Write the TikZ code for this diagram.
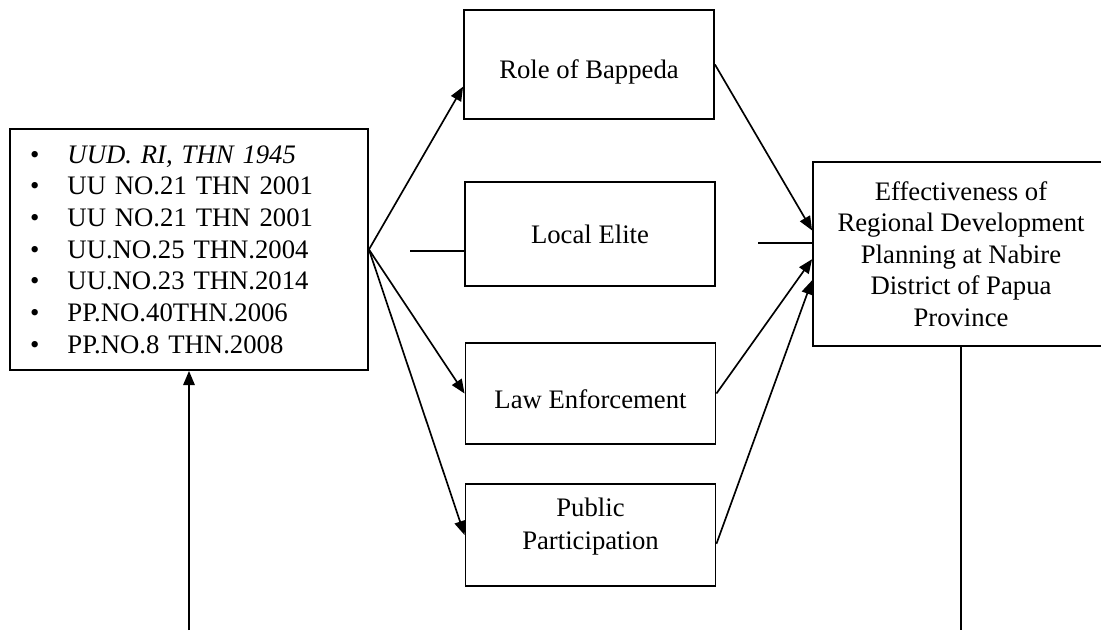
\documentclass[tikz,border=0pt]{standalone}
\usepackage{fontspec}
\setmainfont{Liberation Serif}
\usetikzlibrary{arrows.meta}

\newcommand{\lawitem}[1]{\textbullet\hspace{16pt}#1}

\begin{document}
\begin{tikzpicture}
[x=0.02cm,y=-0.02cm,
  boxDecorate/.style={shape=rectangle,draw,line width=1.1pt,inner sep=0pt,%
    font=\fontsize{15.2}{18}\selectfont},%
  midDecorate/.style={boxDecorate,minimum width=5cm,minimum height=2.06cm},%
  lineDecorate/.style={-,line width=0.95pt},%
  arrowDecorate/.style={-{Triangle[length=8pt,width=6.5pt]},line width=0.95pt}]
\useasboundingbox (0,0) rectangle (1101,630);
%% regulations box
\node (base) at (189,249.5) [boxDecorate,minimum width=7.16cm,minimum height=4.82cm,
  text width=6.36cm,align=left]
  {\lawitem{\textit{UUD. RI, THN 1945}}\\
   \lawitem{UU NO.21 THN 2001}\\
   \lawitem{UU NO.21 THN 2001}\\
   \lawitem{UU.NO.25 THN.2004}\\
   \lawitem{UU.NO.23 THN.2014}\\
   \lawitem{PP.NO.40THN.2006}\\
   \lawitem{PP.NO.8 THN.2008}};
%% factor boxes
\node (role) at (589,64.5) [midDecorate,minimum height=2.18cm,
  text height=15.7pt,text depth=0pt] {Role of Bappeda};
\node (elite) at (590,234) [midDecorate,minimum height=2.08cm] {Local Elite};
\node (law) at (590.5,393.5) [midDecorate,minimum height=2.02cm,
  text height=16.8pt,text depth=0pt] {Law Enforcement};
\node (pub) at (590.5,535) [midDecorate,minimum height=2.04cm,
  text height=0pt,text depth=21.3pt]
  {\begin{tabular}[t]{@{}c@{}}Public\\[1pt]Participation\end{tabular}};
%% outcome box
\node (goal) at (961,254) [boxDecorate,minimum width=5.92cm,minimum height=3.68cm,align=center]
  {Effectiveness of\\Regional Development\\Planning at Nabire\\District of Papua\\Province};
%% free ends
\coordinate (eliteIn) at (410,251);
\coordinate (eliteOut) at (758,243);
\coordinate (baseFoot) at (189,630);
\coordinate (goalFoot) at (961,630);
%% arrows
\path
\foreach \startnode/\endnode in {base.east/role.190, base.east/law.west, base.east/pub.west,
  role.east/goal.171, law.east/goal.182, pub.-4/goal.190} {
  (\startnode) edge[arrowDecorate] (\endnode)
};
\draw[lineDecorate] (eliteIn) -- (eliteIn -| elite.west);
\draw[lineDecorate] (eliteOut) -- (eliteOut -| goal.west);
\draw[arrowDecorate] (baseFoot) -- (base.south);
\draw[lineDecorate] (goal.south) -- (goalFoot);
\end{tikzpicture}
\end{document}
